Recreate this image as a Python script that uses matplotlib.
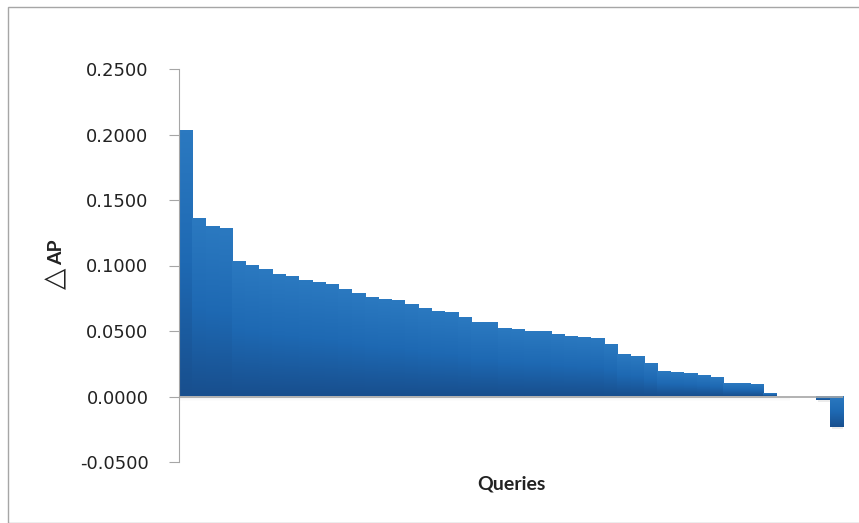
import numpy as np
import matplotlib
matplotlib.use("Agg")
import matplotlib.pyplot as plt
from matplotlib.colors import LinearSegmentedColormap
from matplotlib.patches import Rectangle

# delta AP per query, sorted
delta_ap = [0.2028, 0.1358, 0.1297, 0.1282, 0.1023, 0.1000, 0.0962, 0.0931,
            0.0909, 0.0878, 0.0863, 0.0848, 0.0810, 0.0779, 0.0749, 0.0733,
            0.0726, 0.0695, 0.0665, 0.0642, 0.0634, 0.0596, 0.0558, 0.0558,
            0.0512, 0.0505, 0.0490, 0.0490, 0.0467, 0.0452, 0.0444, 0.0436,
            0.0391, 0.0315, 0.0299, 0.0246, 0.0185, 0.0177, 0.0170, 0.0155,
            0.0139, 0.0094, 0.0094, 0.0086, 0.0018, 0.0, 0.0, 0.0,
            -0.0023, -0.0231]
yticks = [-0.05, 0.0, 0.05, 0.10, 0.15, 0.20, 0.25]

plt.rcParams['font.family'] = ['Lato', 'DejaVu Sans']

fig = plt.figure(figsize=(8.59, 5.23), dpi=100)
# outer chart border
fig.patches.append(Rectangle((8 / 859, 0), 1, 1 - 7 / 523, transform=fig.transFigure,
                             fill=False, edgecolor='#a6a6a6', lw=1.0))
ax = fig.add_axes([179 / 859, 61 / 523, 664 / 859, 393 / 523])

x = np.arange(len(delta_ap))
grad = LinearSegmentedColormap.from_list('g', ['#184f8e', '#1e69b3', '#2b79c0'])
img = np.linspace(0, 1, 64).reshape(-1, 1)

# soft shadow under the bars
for k, a in enumerate([0.10, 0.07, 0.04, 0.02]):
    ax.fill_between([-0.5, 45.5], -0.0008 * k, -0.0008 * (k + 1), color='gray',
                    alpha=a, lw=0, zorder=1)

for xi, v in zip(x, delta_ap):
    if v == 0:
        continue
    lo, hi = min(0, v), max(0, v)
    ax.imshow(img, cmap=grad, aspect='auto', origin='lower',
              extent=(xi - 0.5, xi + 0.5, lo, hi), zorder=2, interpolation='bilinear')
    if v < 0:
        ax.add_patch(Rectangle((xi - 0.35, v - 0.002), 0.85, 0.002, color='gray',
                               alpha=0.15, lw=0, zorder=1))

ax.axhline(0, color='#a6a6a6', lw=1.2, zorder=3)

ax.set_xlim(-0.5, len(delta_ap) - 0.5)
ax.set_ylim(-0.05, 0.25)
ax.set_yticks(yticks)
ax.set_yticklabels([f'{t:.4f}' for t in yticks], fontsize=13, family='DejaVu Sans',
                   color='#222222')
ax.set_xticks([])
for s in ['top', 'right', 'bottom']:
    ax.spines[s].set_visible(False)
ax.spines['left'].set_color('#a6a6a6')
ax.tick_params(axis='y', length=7, color='#a6a6a6', pad=15)

# y label: big outlined triangle + bold AP
fig.text(55 / 859, 1 - 278 / 523, '△', rotation=90, fontsize=20, family='DejaVu Sans',
         ha='center', va='center', color='#222222')
fig.text(57 / 859, 1 - 252 / 523, 'AP', rotation=90, fontsize=14, fontweight='bold',
         ha='center', va='center', color='#222222')
ax.set_xlabel('Queries', fontsize=14, fontweight='bold', labelpad=10, color='#222222')

fig.savefig('out.png', dpi=100)
